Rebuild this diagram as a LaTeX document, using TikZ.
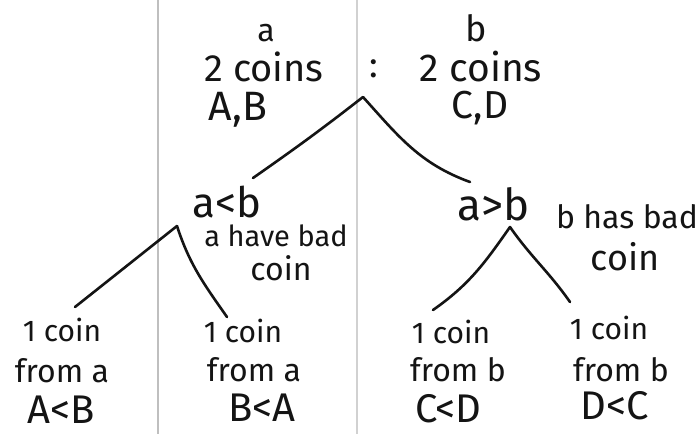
\documentclass[tikz,border=0pt]{standalone}
\usepackage{fontspec}
\setmainfont{Fira Sans}
\begin{document}
\begin{tikzpicture}[x=1pt,y=-1pt,
  ink/.style={line width=2.6pt,draw=black!92,line cap=round,line join=round},
  rule/.style={line width=1.3pt,draw=black!25},
  txt/.style={inner sep=0pt,text=black!92,font=\fontsize{#1}{#1}\selectfont}]
\useasboundingbox[fill=white] (0,0) rectangle (697,434);

% notebook rules
\draw[rule] (158,0) -- (158,434);
\draw[rule,draw=black!18] (357,0) -- (357,434);

% top: the two groups of coins on the balance
\node[txt=32] (na) at (266,33) {a};
\node[txt=38] (acoins) at (264,67) {2 coins};
\node[txt=36] (colon) at (374,69) {:};
\node[txt=36] (nb) at (476,28) {b};
\node[txt=39] (bcoins) at (481,67) {2 coins};
\node[txt=41] (ab) at (238,110) {A,B};
\node[txt=39] (cd) at (480,108) {C,D};

% second level
\node[txt=42] (altb) at (227,202) {a<b};
\node[txt=44] (agtb) at (494,204) {a>b};
\node[txt=29] (abad) at (276,236) {a have bad};
\node[txt=32] (abad2) at (281,268) {coin};
\node[txt=32] (bbad) at (627,217) {b has bad};
\node[txt=36] (bbad2) at (625,257) {coin};

% leaves
\node[txt=30] (l1a) at (62,330) {1 coin};
\node[txt=32] (l1b) at (62,371) {from a};
\node[txt=40] (l1c) at (61,410) {A<B};
\node[txt=30] (l2a) at (243,331) {1 coin};
\node[txt=32] (l2b) at (254,370) {from a};
\node[txt=40] (l2c) at (262,408) {B<A};
\node[txt=30] (l3a) at (451,332) {1 coin};
\node[txt=32] (l3b) at (458,370) {from b};
\node[txt=40] (l3c) at (448,409) {C<D};
\node[txt=30] (l4a) at (609,328) {1 coin};
\node[txt=32] (l4b) at (621,370) {from b};
\node[txt=40] (l4c) at (615,406) {D<C};

% branch points and branch ends
\coordinate (root) at (363,97);
\coordinate (rootL) at (253,178);
\coordinate (rootR) at (470,182);
\coordinate (lsub) at (177,226);
\coordinate (lsubL) at (75,307);
\coordinate (lsubR) at (227,317);
\coordinate (rsub) at (510,227);
\coordinate (rsubL) at (433,310);
\coordinate (rsubR) at (570,302);

% tree
\draw[ink] (root) to[out=-142,in=35] (rootL);
\draw[ink] (root) to[out=-48,in=160] (rootR);
\draw[ink] (lsub) -- (lsubL);
\draw[ink] (lsub) to[out=-72,in=125] (lsubR);
\draw[ink] (rsub) to[out=-125,in=35] (rsubL);
\draw[ink] (rsub) to[out=-55,in=125] (rsubR);
\end{tikzpicture}
\end{document}
